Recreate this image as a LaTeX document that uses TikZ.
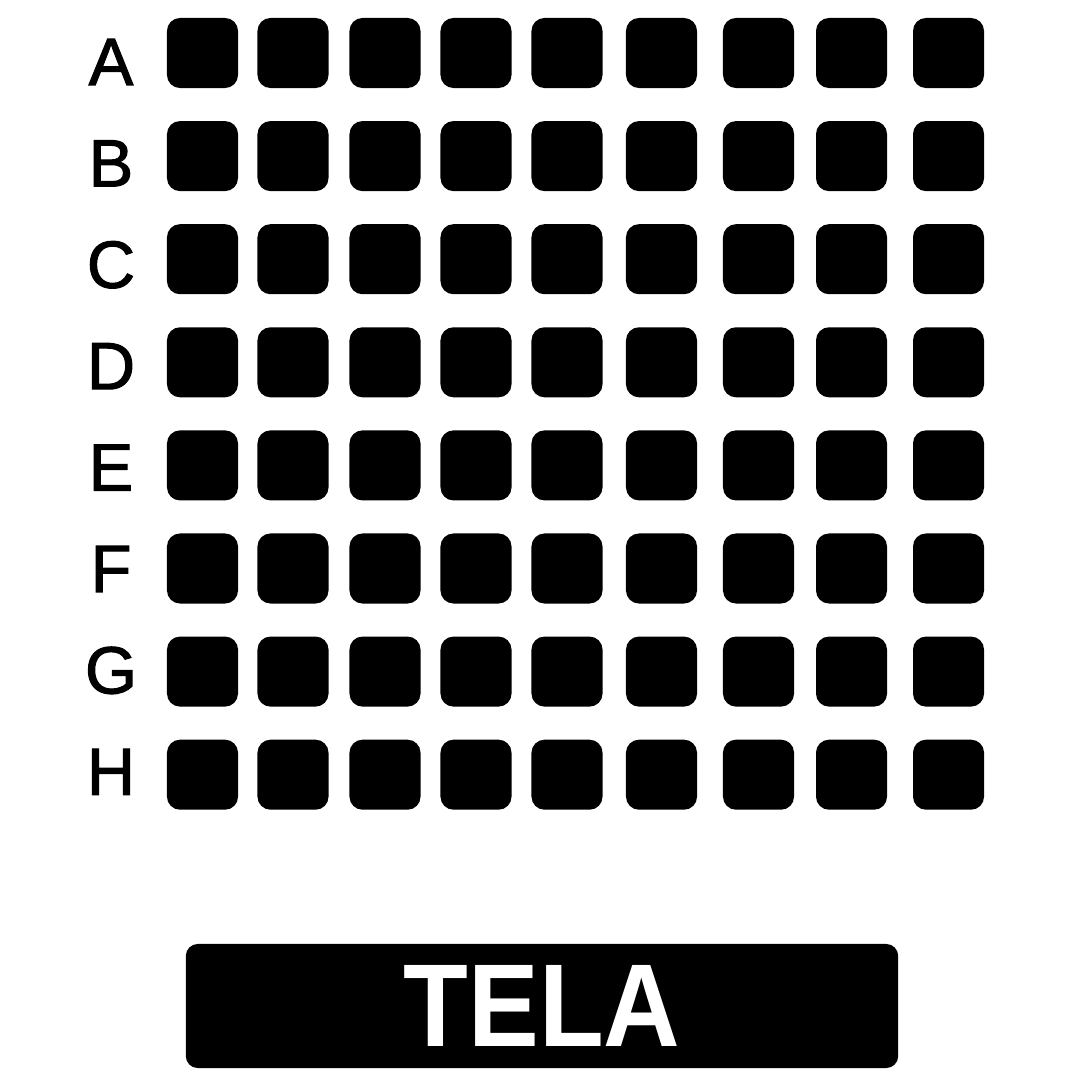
\documentclass[tikz,border=0pt]{standalone}
\usepackage{graphicx}
\usepackage{fontspec}
\setmainfont{Liberation Sans}
\newfontfamily\rowfont[FakeBold=1.6]{Liberation Sans}
\usetikzlibrary{positioning}

\begin{document}
\begin{tikzpicture}[x=0.01cm, y=-0.01cm,
    seat/.style={rectangle, rounded corners=1.3mm, fill=black, minimum width=7.1mm, minimum height=7mm, inner sep=0pt},
    rowlabel/.style={inner sep=0pt, font=\rowfont\fontsize{19}{22}\selectfont},
    screen/.style={rectangle, rounded corners=1.2mm, fill=black, minimum width=71.2mm, minimum height=12.4mm, text=white, font=\fontsize{33.5}{36}\selectfont\bfseries}]

    \useasboundingbox (0,0) rectangle (1080,1080);

    % Posti a sedere
    \foreach \r [count=\i] in {A,B,C,D,E,F,G,H} {
        \pgfmathsetmacro{\ry}{53+(\i-1)*103.1}
        \pgfmathsetmacro{\ly}{62+(\i-1)*101.4}
        \node[rowlabel] (row\r) at (111,\ly) {\r};
        \foreach \cx [count=\j] in {202.5,293,385,476,567,661.5,758.5,851.5,948.5}
            \node[seat] (seat\r\j) at (\cx,\ry) {};
    }

    % Schermo
    \node[screen] (tela) at (542,1006) {\scalebox{0.9}[1]{TELA}};
\end{tikzpicture}
\end{document}
